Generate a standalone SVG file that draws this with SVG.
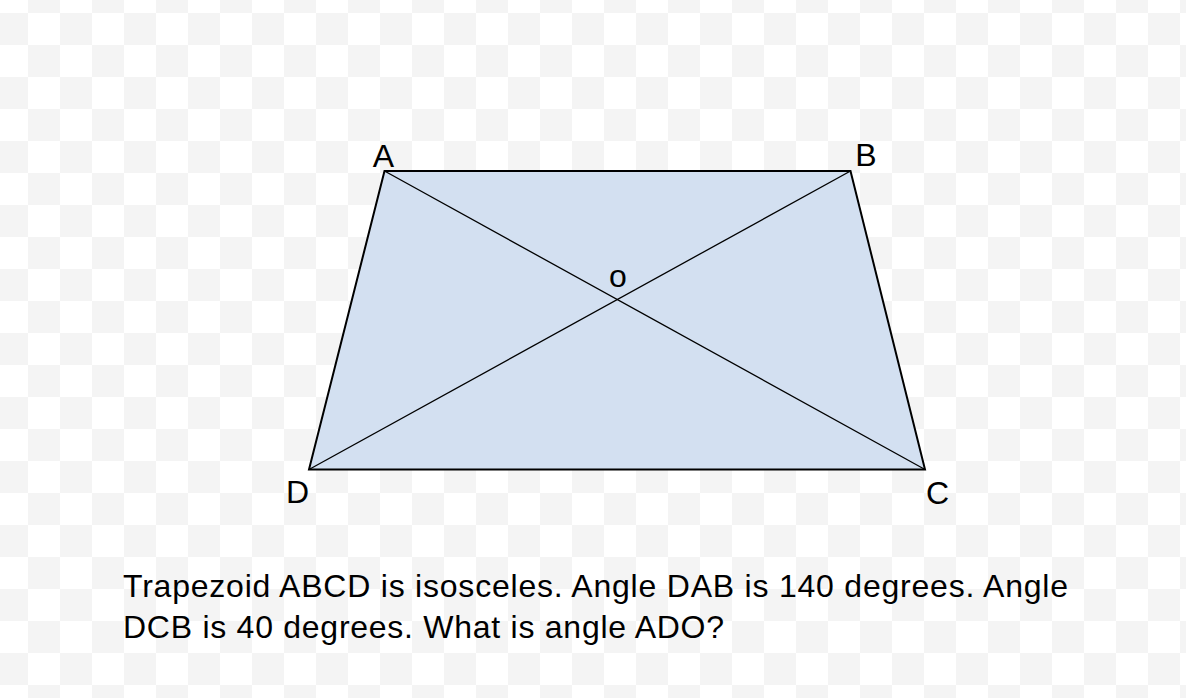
<svg xmlns="http://www.w3.org/2000/svg" width="1186" height="698" viewBox="0 0 1186 698">
<style>
.lbl{font-family:"Liberation Sans",Arial,sans-serif;font-size:32px;fill:#000}
.edge{fill:none;stroke:#000;stroke-width:1.3}
</style>
<defs>
<pattern id="checker" x="-4" y="-19" width="64" height="64" patternUnits="userSpaceOnUse">
<rect x="0" y="0" width="64" height="64" fill="#ffffff"/>
<rect x="32" y="0" width="32" height="32" fill="#f4f4f4"/>
<rect x="0" y="32" width="32" height="32" fill="#f4f4f4"/>
</pattern>
</defs>
<rect x="0" y="0" width="1186" height="698" fill="url(#checker)"/>
<g id="trapezoid">
<polygon points="384.5,171 850.5,171 925,469.5 309,469.5" fill="#d3e0f1" stroke="#000" stroke-width="2" stroke-linejoin="miter"/>
</g>
<g id="connectors">
<line class="edge" x1="384.5" y1="171" x2="925" y2="469.5"/>
<line class="edge" x1="850.5" y1="171" x2="309" y2="469.5"/>
</g>
<g id="node-A"><text class="lbl" x="383.5" y="167" text-anchor="middle">A</text></g>
<g id="node-B"><text class="lbl" x="866" y="166" text-anchor="middle">B</text></g>
<g id="node-C"><text class="lbl" x="937.5" y="504" text-anchor="middle">C</text></g>
<g id="node-D"><text class="lbl" x="297.5" y="503" text-anchor="middle">D</text></g>
<g id="node-O"><text class="lbl" x="618" y="287" text-anchor="middle">o</text></g>
<g id="question">
<text class="lbl" x="123" y="597" textLength="945" lengthAdjust="spacing">Trapezoid ABCD is isosceles. Angle DAB is 140 degrees. Angle</text>
<text class="lbl" x="123" y="637.5" textLength="601" lengthAdjust="spacing">DCB is 40 degrees. What is angle ADO?</text>
</g>
</svg>
